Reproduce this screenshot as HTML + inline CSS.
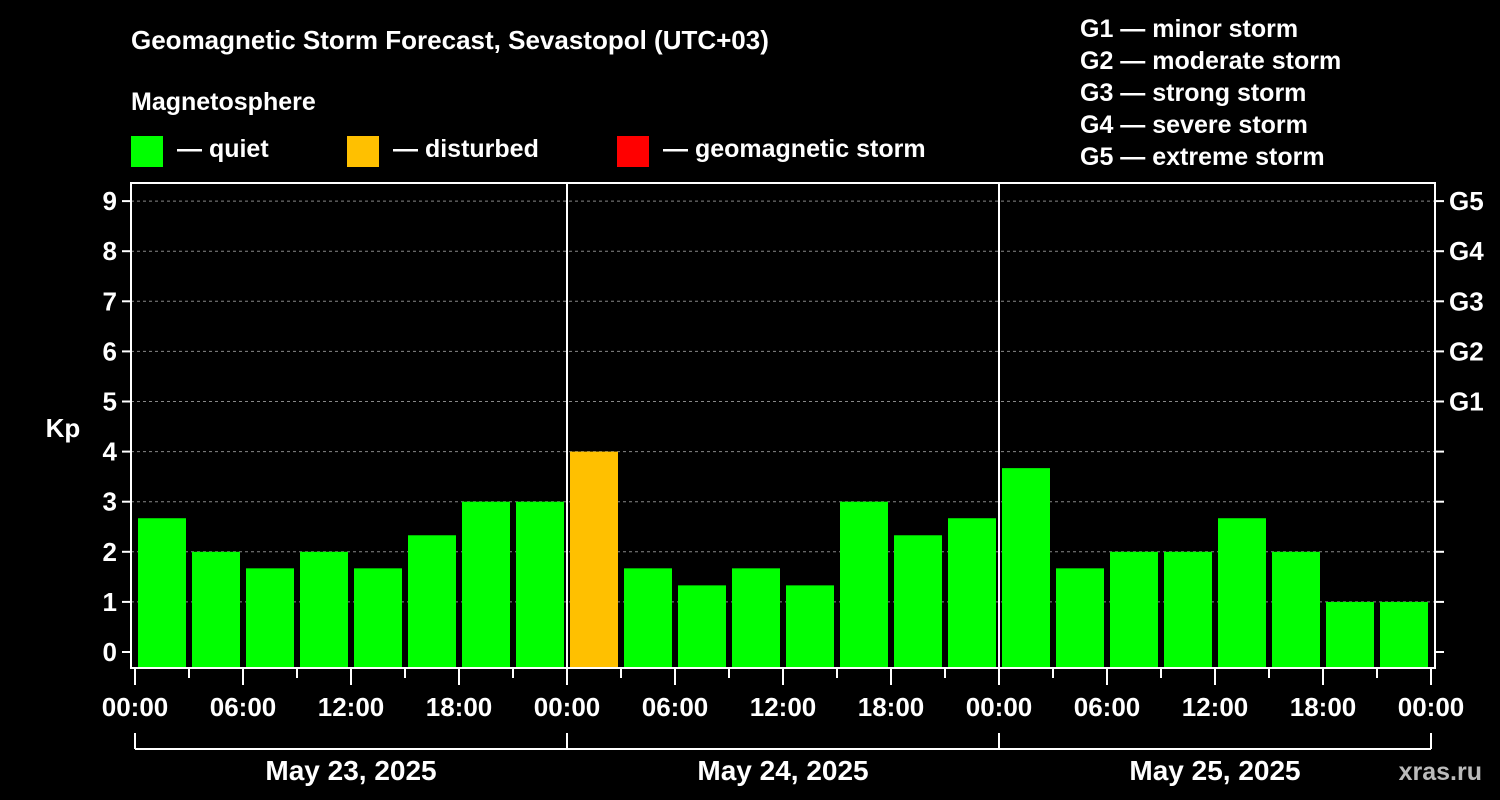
<!DOCTYPE html>
<html><head><meta charset="utf-8"><style>
html,body{margin:0;padding:0;background:#000;}
svg{display:block;font-family:"Liberation Sans",sans-serif;font-weight:bold;}
</style></head><body>
<svg id="chart" width="1500" height="800" viewBox="0 0 1500 800">
<rect width="1500" height="800" fill="#000"/>
<text x="131" y="49" fill="#fff" font-size="26">Geomagnetic Storm Forecast, Sevastopol (UTC+03)</text>
<text x="131" y="110" fill="#fff" font-size="25">Magnetosphere</text>
<g><rect x="131" y="136" width="32" height="31" fill="#00ff00"/><text x="177" y="157" fill="#fff" font-size="25">— quiet</text></g>
<g><rect x="347" y="136" width="32" height="31" fill="#ffc000"/><text x="393" y="157" fill="#fff" font-size="25">— disturbed</text></g>
<g><rect x="617" y="136" width="32" height="31" fill="#ff0000"/><text x="663" y="157" fill="#fff" font-size="25">— geomagnetic storm</text></g>
<g fill="#fff" font-size="25">
<text x="1080" y="37">G1 — minor storm</text>
<text x="1080" y="69">G2 — moderate storm</text>
<text x="1080" y="101">G3 — strong storm</text>
<text x="1080" y="133">G4 — severe storm</text>
<text x="1080" y="165">G5 — extreme storm</text>
</g>
<text x="63" y="437" fill="#fff" font-size="26" text-anchor="middle">Kp</text>
<text x="1482" y="780" fill="#bbb" font-size="25" text-anchor="end">xras.ru</text>
<g id="grid"></g><g id="bars"></g><g id="axes"></g>
</svg>
<script>
const kpValues=[2.67,2,1.67,2,1.67,2.33,3,3, 4,1.67,1.33,1.67,1.33,3,2.33,2.67, 3.67,1.67,2,2,2.67,2,1,1];
const yTicks=[0,1,2,3,4,5,6,7,8,9];
const gLabels=["G1","G2","G3","G4","G5"];
const hourLabels=["00:00","06:00","12:00","18:00"];
const dayLabels=["May 23, 2025","May 24, 2025","May 25, 2025"];
const NS="http://www.w3.org/2000/svg";
const L=131,R=1435,T=183,B=668,X0=135,X1=1431;
const slot=(X1-X0)/kpValues.length;
function y(v){return 652-v*50.1;}
function x(i){return X0+i*slot;}
function mk(tag,attrs,parent){const e=document.createElementNS(NS,tag);for(const k in attrs)e.setAttribute(k,attrs[k]);document.getElementById(parent).appendChild(e);return e;}
function color(v){return v>=5?"#ff0000":v>=4?"#ffc000":"#00ff00";}
yTicks.forEach(t=>{
  if(t>0){const g=mk("line",{x1:L,x2:R,y1:y(t),y2:y(t),stroke:"#888","stroke-dasharray":"3,3","stroke-width":1},"grid");
  
  }
  const tk=mk("line",{x1:L-9,x2:L,y1:y(t),y2:y(t),stroke:"#fff","stroke-width":2},"axes");
  
  
  const tr=mk("line",{x1:R,x2:R+9,y1:y(t),y2:y(t),stroke:"#fff","stroke-width":2},"axes");
  
  
  const lb=mk("text",{x:L-14,y:y(t)+9,fill:"#fff","font-size":26,"text-anchor":"end"},"axes");
  lb.textContent=t;
  
  
});
gLabels.forEach((g,i)=>{
  const lb=mk("text",{x:R+14,y:y(5+i)+9,fill:"#fff","font-size":26},"axes");
  lb.textContent=g;
  
  
});
kpValues.forEach((v,i)=>{
  const r=mk("rect",{x:x(i)+3,y:y(v),width:slot-6,height:B-y(v),fill:color(v)},"bars");
  
  
});
const fr=mk("rect",{x:L,y:T,width:R-L,height:B-T,fill:"none",stroke:"#fff","stroke-width":2},"axes");


for(let i=0;i<=kpValues.length;i++){
  const big=i%2===0;
  const tk=mk("line",{x1:x(i),x2:x(i),y1:B,y2:B+(big?17:10),stroke:"#fff","stroke-width":2},"axes");
  
  
  if(i%8===0&&i>0&&i<kpValues.length){
    const d=mk("line",{x1:x(i),x2:x(i),y1:T,y2:B,stroke:"#fff","stroke-width":2},"axes");
    
    
  }
  if(i%2===0){
    const lb=mk("text",{x:x(i),y:716,fill:"#fff","font-size":26,"text-anchor":"middle"},"axes");
    lb.textContent=hourLabels[(i/2)%4];
    
    
  }
}
const br=mk("line",{x1:X0,x2:X1,y1:749,y2:749,stroke:"#fff","stroke-width":2},"axes");


for(let d=0;d<=dayLabels.length;d++){
  const bx=x(d*8);
  const t=mk("line",{x1:bx,x2:bx,y1:733,y2:749,stroke:"#fff","stroke-width":2},"axes");
  
  
}
dayLabels.forEach((dl,d)=>{
  const lb=mk("text",{x:x(d*8+4),y:780,fill:"#fff","font-size":28,"text-anchor":"middle"},"axes");
  lb.textContent=dl;
  
  
});
</script>
</body></html>
